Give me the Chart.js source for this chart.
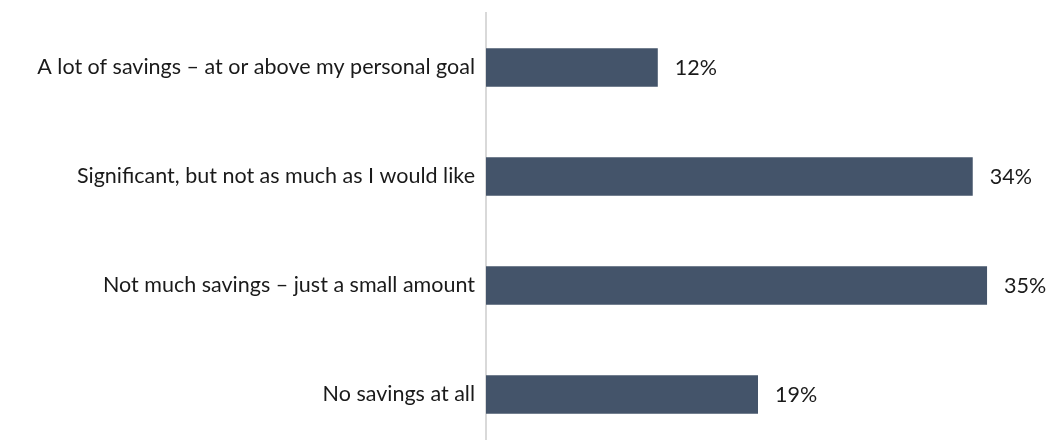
<!DOCTYPE html>
<html>
<head>
<meta charset="utf-8">
<script src="https://cdn.jsdelivr.net/npm/chart.js@4/dist/chart.umd.min.js"></script>
<style>
  html, body { margin: 0; padding: 0; background: #fff; }
  #wrap { width: 1047px; height: 440px; overflow: hidden; position: relative; }
  #box { width: 1047px; height: 449px; position: absolute; left: 0; top: 0; }
</style>
</head>
<body>
<div id="wrap"><div id="box"><canvas id="savings_bar"></canvas></div></div>
<script>
const categories = [
  'A lot of savings \u2013 at or above my personal goal',
  'Significant, but not as much as I would like',
  'Not much savings \u2013 just a small amount',
  'No savings at all'
];
const shares = [12, 34, 35, 19];

const FONT = 'Lato, "Open Sans", sans-serif';
const FONT_SIZE = 21.5;

// Prozentwerte rechts neben die Balken schreiben
const valueLabels = {
  id: 'valueLabels',
  afterDatasetsDraw(chart) {
    const ctx = chart.ctx;
    const meta = chart.getDatasetMeta(0);
    ctx.save();
    ctx.font = FONT_SIZE + 'px ' + FONT;
    ctx.fillStyle = '#1a1a1a';
    ctx.textAlign = 'left';
    ctx.textBaseline = 'middle';
    meta.data.forEach((bar, i) => {
      ctx.fillText(shares[i] + '%', bar.x + 17, bar.y + 1);
    });
    ctx.restore();
  }
};

document.addEventListener('DOMContentLoaded', function() {
  const ctx = document.getElementById('savings_bar').getContext('2d');
  new Chart(ctx, {
    type: 'bar',
    data: {
      labels: categories,
      datasets: [{
        data: shares,
        backgroundColor: '#44546a',
        borderWidth: 0,
        barPercentage: 1,
        categoryPercentage: 0.354
      }]
    },
    options: {
      indexAxis: 'y',
      responsive: true,
      maintainAspectRatio: false,
      animation: false,
      layout: { padding: { top: 13, right: 17, bottom: 0, left: 0 } },
      plugins: {
        legend: { display: false },
        tooltip: { enabled: false }
      },
      scales: {
        x: {
          display: false,
          min: 0,
          max: 38
        },
        y: {
          grid: { display: false, drawTicks: false },
          border: { display: true, color: '#d9d9d9', width: 2 },
          ticks: {
            color: '#1a1a1a',
            padding: 11,
            font: { family: FONT, size: FONT_SIZE }
          },
          afterFit(scale) {
            // feste Breite der Beschriftungsspalte, kein Extra-Rand oben/unten
            scale.width = 486;
            scale.paddingTop = 0;
            scale.paddingBottom = 0;
          }
        }
      }
    },
    plugins: [valueLabels]
  });
});
</script>
</body>
</html>
